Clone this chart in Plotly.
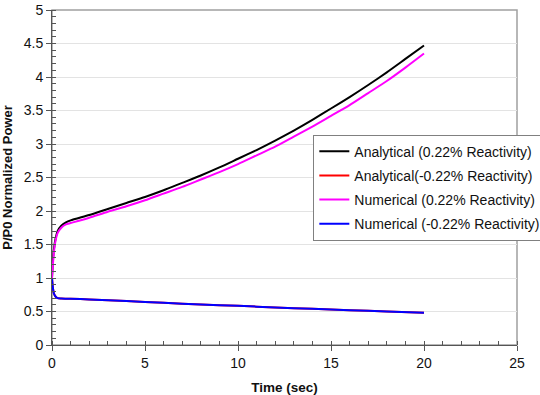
import plotly.graph_objects as go

t = [0, 0.05, 0.1, 0.2, 0.3, 0.5, 0.75, 1, 2, 3, 4, 5, 6, 7, 8, 9, 10,
     11, 12, 13, 14, 15, 16, 17, 18, 19, 20]
analytical_pos = [1.0, 1.25, 1.42, 1.60, 1.70, 1.78, 1.83, 1.86, 1.94, 2.03, 2.12, 2.21,
                  2.31, 2.42, 2.53, 2.65, 2.78, 2.91, 3.05, 3.20, 3.36, 3.53, 3.70,
                  3.88, 4.07, 4.27, 4.47]
numerical_pos = [1.0, 1.20, 1.38, 1.57, 1.67, 1.75, 1.80, 1.82, 1.90, 1.99, 2.07, 2.16,
                 2.26, 2.36, 2.47, 2.58, 2.70, 2.83, 2.96, 3.11, 3.26, 3.42, 3.58,
                 3.76, 3.94, 4.14, 4.35]
t_neg = [0, 0.05, 0.1, 0.2, 0.3, 0.5, 1, 2, 4, 6, 8, 10, 12, 14, 16, 18, 20]
analytical_neg = [1.0, 0.85, 0.77, 0.72, 0.70, 0.695, 0.69, 0.68, 0.655, 0.63, 0.605,
                  0.585, 0.56, 0.54, 0.52, 0.50, 0.48]
numerical_neg = [1.0, 0.85, 0.77, 0.72, 0.70, 0.695, 0.69, 0.68, 0.655, 0.63, 0.605,
                 0.585, 0.56, 0.54, 0.52, 0.50, 0.48]

names = ["Analytical (0.22% Reactivity)", "Analytical(-0.22% Reactivity)",
         "Numerical (0.22% Reactivity)", "Numerical (-0.22% Reactivity)"]
colors = ["#000000", "#ff0000", "#ff00ff", "#0000ff"]
xs = [t, t_neg, t, t_neg]
ys = [analytical_pos, analytical_neg, numerical_pos, numerical_neg]

fig = go.Figure()
for i in range(4):
    fig.add_trace(go.Scatter(x=xs[i], y=ys[i], mode="lines", name=names[i],
                             legendgroup=f"g{i}",
                             line=dict(color=colors[i], width=2, shape="spline", smoothing=0.6)))

font = "Liberation Sans, Arial, sans-serif"
fig.update_layout(
    width=540, height=395,
    margin=dict(l=52, r=23, t=10, b=50, autoexpand=False),
    paper_bgcolor="white", plot_bgcolor="white",
    font=dict(family=font, size=14, color="#111"),
    showlegend=True,
    legend=dict(x=0.562, y=0.628, xanchor="left", yanchor="top",
                bordercolor="#808080", borderwidth=1, bgcolor="white",
                font=dict(size=14), itemwidth=30, tracegroupgap=3,
                traceorder="grouped"),
    xaxis=dict(range=[0, 25], dtick=5, showgrid=False, zeroline=False,
               showline=True, linecolor="#555", linewidth=1,
               ticks="outside", ticklen=5, tickcolor="#555",
               tickfont=dict(size=14),
               minor=dict(dtick=1, ticks="inside", ticklen=4, tickcolor="#555"),
               title=dict(text="<b>Time (sec)</b>", font=dict(size=13.5), standoff=14)),
    yaxis=dict(range=[0, 5], dtick=0.5, showgrid=True, gridcolor="#e3e3e3",
               zeroline=False, showline=True, linecolor="#555", linewidth=1,
               ticks="outside", ticklen=5, tickcolor="#555",
               tickfont=dict(size=14),
               minor=dict(dtick=0.1, ticks="inside", ticklen=4, tickcolor="#555"),
               title=dict(text="<b>P/P0 Normalized Power</b>", font=dict(size=13), standoff=9)),
    shapes=[dict(type="rect", xref="paper", yref="paper", x0=0, y0=0, x1=1, y1=1,
                 line=dict(color="#a0a0a0", width=1.5), layer="below")],
)

fig.write_html("out.html")
